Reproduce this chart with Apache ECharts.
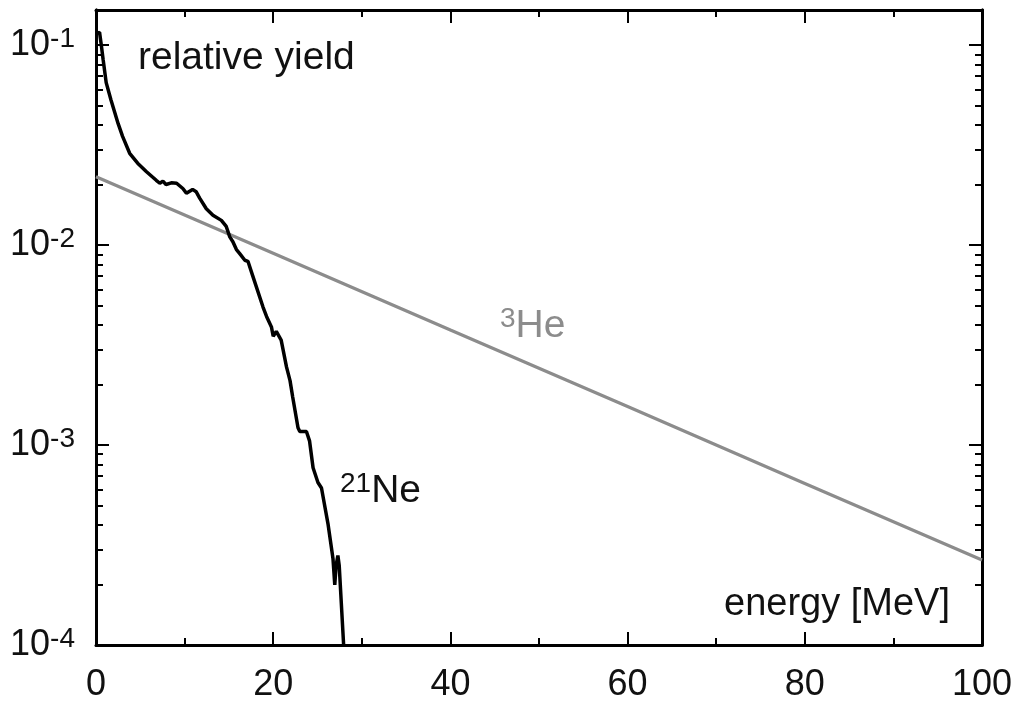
<!DOCTYPE html>
<html>
<head>
<meta charset="utf-8">
<script src="https://cdn.jsdelivr.net/npm/echarts@6/dist/echarts.min.js"></script>
<style>
html,body{margin:0;padding:0;background:#fff;}
#chart{width:1021px;height:709px;}
</style>
</head>
<body>
<div id="chart"></div>
<script>
// ---- data ----
const neEnergy = [0.1, 0.4, 0.6, 0.8, 1.15, 1.7, 2.5, 3.0, 3.8, 4.7, 5.7, 6.8, 7.2, 7.55, 7.9, 8.5, 9.1, 9.8, 10.2, 10.9, 11.3, 11.7, 12.45, 13.2, 14.15, 14.7, 15.1, 15.45, 15.85, 16.2, 16.8, 17.15, 17.7, 18.85, 19.25, 19.8, 20.0, 20.35, 20.9, 21.5, 21.9, 22.2, 22.8, 23.0, 23.5, 23.75, 24.1, 24.5, 25.05, 25.45, 26.2, 26.75, 26.95, 27.1, 27.3, 27.45, 27.95];
const neYield = [0.115, 0.116, 0.1, 0.085, 0.065, 0.053, 0.0405, 0.035, 0.0288, 0.0257, 0.0233, 0.0211, 0.0204, 0.0209, 0.0201, 0.0205, 0.0204, 0.0192, 0.0182, 0.019, 0.0185, 0.0172, 0.0152, 0.0141, 0.0133, 0.0124, 0.011, 0.0104, 0.0095, 0.0091, 0.0084, 0.0083, 0.0070, 0.0049, 0.0044, 0.0039, 0.0035, 0.0037, 0.00335, 0.00246, 0.0021, 0.00174, 0.00122, 0.00117, 0.00117, 0.00117, 0.00105, 0.00077, 0.00065, 0.00061, 0.0004, 0.00027, 0.0002, 0.00025, 0.00028, 0.00025, 0.0001];
const heEnergy = [0, 20, 40, 60, 80, 100];
const heYield = [0.022, 0.0091, 0.00376, 0.00156, 0.000643, 0.000266];
const yTickExps = [-4, -3, -2, -1];
const yMinVal = 1e-4, yMaxVal = 0.15;
const xTickLabels = [0, 20, 40, 60, 80, 100];

// ---- helpers ----
const FONT = "'Liberation Sans', Arial, Helvetica, sans-serif";
const minorVals = [];
for (let d = -4; d <= -2; d++) for (let k = 2; k <= 9; k++) minorVals.push(Math.log10(k * Math.pow(10, d)));
const toLog = (xs, ys) => xs.map((x, i) => [x, Math.log10(ys[i])]);

const chart = echarts.init(document.getElementById('chart'), null, {renderer: 'canvas'});
const yMin = Math.log10(yMinVal), yMax = Math.log10(yMaxVal);
const lineStyle = {color: '#000', width: 3};

function yAxisDef(pos, major) {
  return {
    type: 'value', position: pos, min: yMin, max: yMax,
    axisLine: {show: true, lineStyle: lineStyle},
    splitLine: {show: false},
    axisTick: {show: true, inside: true, length: major ? 13 : 7,
      lineStyle: {color: '#000', width: 2},
      customValues: major ? yTickExps : minorVals},
    axisLabel: (major && pos === 'left') ? {
      show: true, margin: 21, customValues: yTickExps,
      formatter: v => '{b|10}{s|' + v + '}',
      rich: {
        b: {fontSize: 36, lineHeight: 40, fontFamily: FONT, color: '#111'},
        s: {fontSize: 28, lineHeight: 30, verticalAlign: 'top', fontFamily: FONT, color: '#111'}
      }
    } : {show: false}
  };
}
function xAxisDef(pos) {
  return {
    type: 'value', position: pos, min: 0, max: 100, interval: 20,
    axisLine: {show: true, onZero: false, lineStyle: lineStyle},
    splitLine: {show: false},
    axisTick: {show: true, inside: true, length: 13, lineStyle: {color: '#000', width: 2}},
    minorTick: {show: true, splitNumber: 2, length: 7, lineStyle: {color: '#000', width: 2}},
    axisLabel: pos === 'bottom' ? {
      show: true, margin: 22, fontSize: 36, fontFamily: FONT, color: '#111',
      customValues: xTickLabels
    } : {show: false}
  };
}

const option = {
  animation: false,
  backgroundColor: '#fff',
  grid: {left: 96, right: 39, top: 10, bottom: 64, containLabel: false},
  xAxis: [xAxisDef('bottom'), xAxisDef('top')],
  yAxis: [yAxisDef('left', true), yAxisDef('left', false), yAxisDef('right', true), yAxisDef('right', false)],
  series: [
    {name: '3He', type: 'line', xAxisIndex: 0, yAxisIndex: 0, data: toLog(heEnergy, heYield),
      showSymbol: false, symbol: 'none', lineStyle: {color: '#8c8c8c', width: 3.2}, z: 2},
    {name: '21Ne', type: 'line', xAxisIndex: 0, yAxisIndex: 0, data: toLog(neEnergy, neYield),
      showSymbol: false, symbol: 'none', lineStyle: {color: '#000', width: 3.5}, z: 3, clip: true}
  ],
  graphic: [
    {type: 'text', x: 138, y: 58, style: {text: 'relative yield', font: '39px ' + FONT, fill: '#111', align: 'left', verticalAlign: 'middle'}},
    {type: 'text', x: 950, y: 605, style: {text: 'energy [MeV]', font: '38px ' + FONT, fill: '#111', align: 'right', verticalAlign: 'middle'}},
    {type: 'text', x: 500, y: 305, style: {text: '{s|3}{b|He}', align: 'left', verticalAlign: 'top',
      rich: {b: {fontSize: 39, lineHeight: 42, fontFamily: FONT, fill: '#8c8c8c'},
             s: {fontSize: 28, lineHeight: 16, verticalAlign: 'top', fontFamily: FONT, fill: '#8c8c8c'}}}},
    {type: 'text', x: 340, y: 470, style: {text: '{s|21}{b|Ne}', align: 'left', verticalAlign: 'top',
      rich: {b: {fontSize: 39, lineHeight: 42, fontFamily: FONT, fill: '#111'},
             s: {fontSize: 28, lineHeight: 14, verticalAlign: 'top', fontFamily: FONT, fill: '#111'}}}}
  ]
};
chart.setOption(option);
</script>
</body>
</html>
